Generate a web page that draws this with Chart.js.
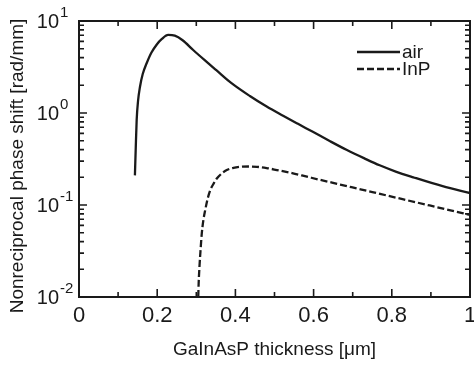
<!DOCTYPE html>
<html>
<head>
<meta charset="utf-8">
<script src="https://cdn.jsdelivr.net/npm/chart.js@4/dist/chart.umd.min.js"></script>
<style>
html,body{margin:0;padding:0;background:#fff;}
#wrap{width:474px;height:366px;}
</style>
</head>
<body>
<div id="wrap"><canvas id="c" width="474" height="366"></canvas></div>
<script>
// ---- data ----
const airThickness = [0.143, 0.145, 0.1475, 0.151, 0.156, 0.163, 0.173, 0.185, 0.199, 0.212, 0.228, 0.245, 0.265, 0.292, 0.32, 0.352, 0.39, 0.437, 0.48, 0.522, 0.56, 0.598, 0.64, 0.684, 0.73, 0.769, 0.81, 0.855, 0.93, 1.0];
const airShift = [0.21, 0.4, 0.84, 1.35, 1.93, 2.65, 3.47, 4.52, 5.56, 6.38, 7.05, 6.92, 6.17, 4.84, 3.8, 2.9, 2.11, 1.53, 1.175, 0.933, 0.762, 0.624, 0.499, 0.398, 0.321, 0.27, 0.231, 0.2, 0.16, 0.135];
const inpThickness = [0.305, 0.306, 0.308, 0.311, 0.314, 0.318, 0.323, 0.329, 0.336, 0.345, 0.353, 0.365, 0.378, 0.395, 0.412, 0.435, 0.455, 0.48, 0.506, 0.545, 0.583, 0.625, 0.668, 0.72, 0.77, 0.83, 0.897, 0.95, 1.0];
const inpShift = [0.01, 0.014, 0.021, 0.033, 0.049, 0.068, 0.089, 0.117, 0.146, 0.173, 0.195, 0.22, 0.24, 0.253, 0.26, 0.262, 0.26, 0.252, 0.24, 0.222, 0.203, 0.184, 0.167, 0.148, 0.132, 0.115, 0.0988, 0.0875, 0.078];
const seriesNames = ['air', 'InP'];
const xTickValues = [0, 0.2, 0.4, 0.6, 0.8, 1];
const xMinorTickValues = [0.1, 0.3, 0.5, 0.7, 0.9];
const yDecadeValues = [0.01, 0.1, 1, 10];
const yDecadeExponents = ['-2', '-1', '0', '1'];
const xTitle = 'GaInAsP thickness [μm]';
const yTitle = 'Nonreciprocal phase shift [rad/mm]';

const INK = '#1a1a1a';
const FONT = '"Liberation Sans", Arial, sans-serif';

function pts(xs, ys){ return xs.map((x,i)=>({x:x, y:ys[i]})); }

const framePlugin = {
  id: 'frame',
  afterDraw(chart){
    const ctx = chart.ctx, a = chart.chartArea;
    const xs = chart.scales.x, ys = chart.scales.y;
    ctx.save();
    ctx.strokeStyle = INK;
    ctx.lineWidth = 2;
    ctx.strokeRect(a.left, a.top, a.right - a.left, a.bottom - a.top);
    ctx.lineWidth = 1.6;
    ctx.beginPath();
    // x ticks, inward, top and bottom
    const xt = (v, len) => {
      const p = xs.getPixelForValue(v);
      ctx.moveTo(p, a.bottom); ctx.lineTo(p, a.bottom - len);
      ctx.moveTo(p, a.top); ctx.lineTo(p, a.top + len);
    };
    xTickValues.forEach(v => xt(v, 8));
    xMinorTickValues.forEach(v => xt(v, 5));
    // y ticks, inward, left and right
    const yt = (v, len) => {
      const p = ys.getPixelForValue(v);
      ctx.moveTo(a.left, p); ctx.lineTo(a.left + len, p);
      ctx.moveTo(a.right, p); ctx.lineTo(a.right - len, p);
    };
    yDecadeValues.forEach((d, i) => {
      yt(d, 8);
      if (i < yDecadeValues.length - 1) {
        for (let m = 2; m <= 9; m++) yt(d * m, 5);
      }
    });
    ctx.stroke();

    // y tick labels with exponents
    ctx.fillStyle = INK;
    ctx.textBaseline = 'middle';
    yDecadeValues.forEach((d, i) => {
      const p = ys.getPixelForValue(d);
      ctx.font = '20px ' + FONT;
      ctx.textAlign = 'right';
      ctx.fillText('10', 59, p + 1);
      ctx.font = '15px ' + FONT;
      ctx.textAlign = 'left';
      ctx.fillText(yDecadeExponents[i], 60, p - 8);
    });

    // y title
    ctx.save();
    ctx.translate(18, 166);
    ctx.rotate(-Math.PI / 2);
    ctx.font = '19px ' + FONT;
    ctx.textAlign = 'center';
    ctx.textBaseline = 'middle';
    ctx.fillText(yTitle, 0, 0);
    ctx.restore();

    // legend
    const ds = chart.data.datasets;
    const ly = [52, 69];
    ds.forEach((d, i) => {
      ctx.beginPath();
      ctx.lineWidth = d.borderWidth;
      ctx.strokeStyle = d.borderColor;
      ctx.setLineDash(d.borderDash || []);
      ctx.moveTo(357, ly[i]); ctx.lineTo(400, ly[i]);
      ctx.stroke();
      ctx.setLineDash([]);
      ctx.font = '19px ' + FONT;
      ctx.textAlign = 'left';
      ctx.textBaseline = 'middle';
      ctx.fillStyle = INK;
      ctx.fillText(d.label, 402, ly[i] + 1);
    });
    ctx.restore();
  }
};

new Chart(document.getElementById('c'), {
  type: 'line',
  data: {
    datasets: [
      { label: seriesNames[0], data: pts(airThickness, airShift), borderColor: INK, borderWidth: 2.3,
        pointRadius: 0, cubicInterpolationMode: 'monotone', fill: false },
      { label: seriesNames[1], data: pts(inpThickness, inpShift), borderColor: INK, borderWidth: 2.3,
        borderDash: [7, 3], pointRadius: 0, cubicInterpolationMode: 'monotone', fill: false }
    ]
  },
  options: {
    responsive: false,
    animation: false,
    devicePixelRatio: 1,
    layout: { padding: { top: 21, right: 4, left: 0, bottom: 0 } },
    plugins: { legend: { display: false }, tooltip: { enabled: false } },
    scales: {
      x: {
        type: 'linear', min: 0, max: 1,
        grid: { display: false, drawTicks: false },
        border: { display: false },
        ticks: {
          stepSize: 0.2, padding: 6, color: INK, maxRotation: 0,
          font: { size: 22, family: FONT },
          callback: v => xTickValues.some(t => Math.abs(t - v) < 1e-6) ? (Math.abs(v) < 1e-6 ? '0' : Math.abs(v - 1) < 1e-6 ? '1' : v.toFixed(1)) : ''
        },
        title: { display: true, text: xTitle, color: INK, font: { size: 19, family: FONT }, padding: { top: 0, bottom: 5 } },
        afterFit: s => { s.height = 69; s.paddingLeft = 0; s.paddingRight = 0; }
      },
      y: {
        type: 'logarithmic', min: 0.01, max: 10,
        grid: { display: false, drawTicks: false },
        border: { display: false },
        ticks: { display: false },
        afterFit: s => { s.width = 79; s.paddingTop = 0; s.paddingBottom = 0; }
      }
    }
  },
  plugins: [framePlugin]
});
</script>
</body>
</html>
